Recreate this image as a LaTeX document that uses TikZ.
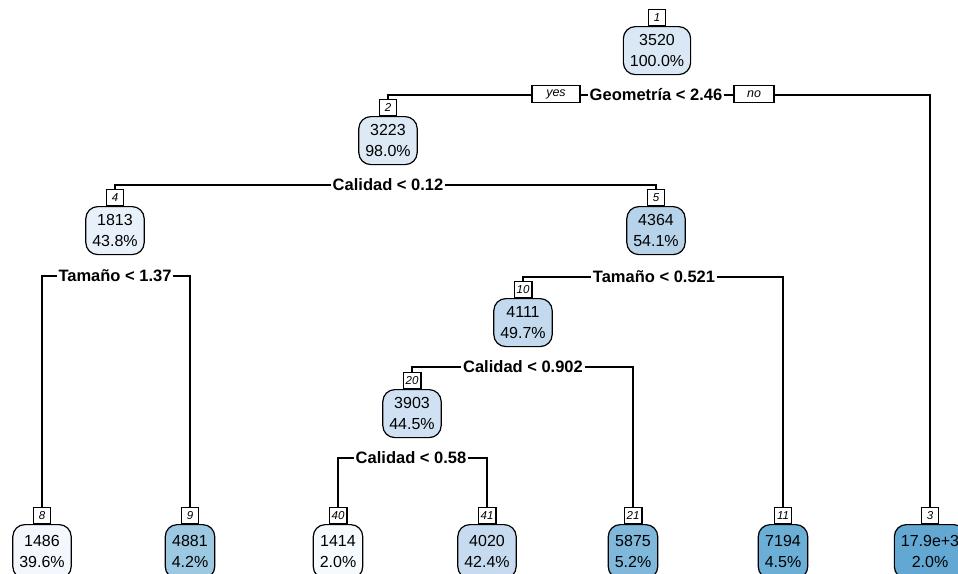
\documentclass[tikz,border=0pt]{standalone}
\usepackage{fontspec}
\setmainfont{Liberation Sans}
\definecolor{c1}{HTML}{DAE8F5}
\definecolor{c2}{HTML}{DDEAF6}
\definecolor{c4}{HTML}{E8F1FA}
\definecolor{c5}{HTML}{B6D3EA}
\definecolor{c10}{HTML}{C2D9EE}
\definecolor{c20}{HTML}{CFE1F2}
\definecolor{c8}{HTML}{F3F8FE}
\definecolor{c9}{HTML}{9DC8E1}
\definecolor{c40}{HTML}{F5FAFE}
\definecolor{c41}{HTML}{C6DBEF}
\definecolor{c21}{HTML}{7FB8DA}
\definecolor{c11}{HTML}{6BAED6}
\definecolor{c3}{HTML}{62A8D3}
\begin{document}
\begin{tikzpicture}[x=1pt,y=-1pt,
  nb/.style={draw=black, line width=1.2pt, rounded corners=12pt, align=center,
    font=\fontsize{16}{21}\selectfont, inner xsep=6.5pt, inner ysep=2pt,
    minimum height=48pt, anchor=north},
  lf/.style={nb, minimum height=54pt},
  nl/.style={draw=black, fill=white, line width=1.2pt,
    font=\fontsize{11.5}{11.5}\selectfont\itshape, inner xsep=2.5pt, inner ysep=0pt,
    minimum height=16pt, minimum width=17pt, anchor=south},
  sl/.style={font=\fontsize{16.5}{16.5}\selectfont\bfseries, inner xsep=1.5pt, inner ysep=1pt},
  yn/.style={draw=black, line width=1.1pt, fill=white,
    font=\fontsize{12.5}{12.5}\selectfont\itshape, minimum height=17pt, inner sep=0pt},
  cn/.style={line width=1.2pt, draw=black}
]
\useasboundingbox (0,0) rectangle (958,573);
\fill[white] (0,0) rectangle (958,573);
\clip (0,0) rectangle (958,573);

% inner nodes
\node[nb, fill=c1] (n1) at (657,26) {3520\\100.0\%};
\node[nl] (l1) at (n1.north) {1};
\node[nb, fill=c2] (n2) at (388,116) {3223\\98.0\%};
\node[nl] (l2) at (n2.north) {2};
\node[nb, fill=c4] (n4) at (115,206) {1813\\43.8\%};
\node[nl] (l4) at (n4.north) {4};
\node[nb, fill=c5] (n5) at (656,206) {4364\\54.1\%};
\node[nl] (l5) at (n5.north) {5};
\node[nb, fill=c10] (n10) at (523,298) {4111\\49.7\%};
\node[nl] (l10) at (n10.north) {10};
\node[nb, fill=c20] (n20) at (412,389) {3903\\44.5\%};
\node[nl] (l20) at (n20.north) {20};

% leaves
\node[lf, fill=c8] (n8) at (42,524) {1486\\39.6\%};
\node[nl] (l8) at (n8.north) {8};
\node[lf, fill=c9] (n9) at (190,524) {4881\\4.2\%};
\node[nl] (l9) at (n9.north) {9};
\node[lf, fill=c40] (n40) at (338,524) {1414\\2.0\%};
\node[nl] (l40) at (n40.north) {40};
\node[lf, fill=c41] (n41) at (487,524) {4020\\42.4\%};
\node[nl] (l41) at (n41.north) {41};
\node[lf, fill=c21] (n21) at (633,524) {5875\\5.2\%};
\node[nl] (l21) at (n21.north) {21};
\node[lf, fill=c11] (n11) at (783,524) {7194\\4.5\%};
\node[nl] (l11) at (n11.north) {11};
\node[lf, fill=c3] (n3) at (930,524) {17.9e+3\\2.0\%};
\node[nl] (l3) at (n3.north) {3};

% split labels
\node[sl] (s1) at (656,95) {Geometría < 2.46};
\node[yn, minimum width=48pt] (yes) at (556,94) {yes};
\node[yn, minimum width=40pt] (no) at (754,94) {no};
\node[sl] (s2) at (388,185) {Calidad < 0.12};
\node[sl] (s4) at (115,276) {Tamaño < 1.37};
\node[sl] (s5) at (654,277) {Tamaño < 0.521};
\node[sl] (s10) at (523,367) {Calidad < 0.902};
\node[sl] (s20) at (411,458) {Calidad < 0.58};

% connectors
\draw[cn] (yes.west |- s1.west) -| (l2.north);
\draw[cn] (s1.west) -- (yes.east |- s1.west);
\draw[cn] (s1.east) -- (no.west |- s1.east);
\draw[cn] (no.east |- s1.east) -| (l3.north);
\draw[cn] (s2.west) -| (l4.north);
\draw[cn] (s2.east) -| (l5.north);
\draw[cn] (s4.west) -| (l8.north);
\draw[cn] (s4.east) -| (l9.north);
\draw[cn] (s5.west) -| (l10.north);
\draw[cn] (s5.east) -| (l11.north);
\draw[cn] (s10.west) -| (l20.north);
\draw[cn] (s10.east) -| (l21.north);
\draw[cn] (s20.west) -| (l40.north);
\draw[cn] (s20.east) -| (l41.north);
\end{tikzpicture}
\end{document}
